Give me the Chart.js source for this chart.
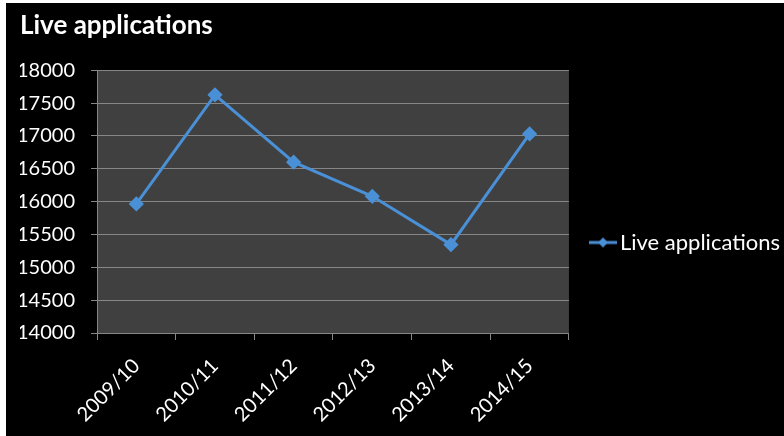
<!DOCTYPE html>
<html>
<head>
<meta charset="utf-8">
<script src="https://cdn.jsdelivr.net/npm/chart.js@4/dist/chart.umd.min.js"></script>
<style>
  html, body { margin: 0; padding: 0; background: #ffffff; }
  #wrap { position: absolute; left: 6px; top: 3px; width: 778px; height: 433px; background: #000000; }
  canvas { display: block; }
</style>
</head>
<body>
<div id="wrap"><canvas id="c" width="778" height="433"></canvas></div>
<script>
// Financial years shown on the category axis
const years = ['2009/10', '2010/11', '2011/12', '2012/13', '2013/14', '2014/15'];
// Number of live applications per year
const liveApplications = [15965, 17625, 16600, 16080, 15345, 17030];
const seriesName = 'Live applications';
const chartTitle = 'Live applications';
// Value axis range and spacing
const yMin = 14000;
const yMax = 18000;
const yStep = 500;

const lineColor = '#4a90d6';
const fontFamily = 'Lato, "Open Sans", "DejaVu Sans", sans-serif';

// Legend marker: short line with a diamond in the middle
function makeLegendMarker() {
  const m = document.createElement('canvas');
  m.width = 28; m.height = 12;
  const g = m.getContext('2d');
  g.strokeStyle = lineColor;
  g.lineWidth = 3;
  g.beginPath(); g.moveTo(0, 6); g.lineTo(28, 6); g.stroke();
  g.fillStyle = lineColor;
  g.beginPath(); g.moveTo(14, 1); g.lineTo(19, 6); g.lineTo(14, 11); g.lineTo(9, 6); g.closePath(); g.fill();
  return m;
}
const legendMarker = makeLegendMarker();

// Fill the plot area with dark grey before anything else is drawn
const plotBackground = {
  id: 'plotBackground',
  beforeDraw(chart) {
    const { ctx, chartArea: a } = chart;
    ctx.save();
    ctx.fillStyle = '#404040';
    ctx.fillRect(a.left, a.top, a.right - a.left, a.bottom - a.top);
    ctx.restore();
  }
};

// Lower the legend a little so it sits below the middle of the side column
const legendDrop = {
  id: 'legendDrop',
  afterLayout(chart) {
    const lg = chart.legend;
    if (lg) { lg.top += 23; lg.bottom += 23; }
  }
};

new Chart(document.getElementById('c'), {
  type: 'line',
  data: {
    labels: years,
    datasets: [{
      label: seriesName,
      data: liveApplications,
      borderColor: lineColor,
      backgroundColor: lineColor,
      borderWidth: 3,
      pointStyle: 'rectRot',
      pointRadius: 5.5,
      pointHoverRadius: 5.5,
      pointBackgroundColor: lineColor,
      pointBorderColor: lineColor,
      tension: 0,
      fill: false
    }]
  },
  options: {
    responsive: false,
    animation: false,
    events: [],
    layout: { padding: { left: 14, right: -6, top: 0, bottom: 0 } },
    plugins: {
      title: {
        display: true,
        text: chartTitle,
        align: 'start',
        color: '#ffffff',
        font: { family: fontFamily, size: 26, weight: 'bold' },
        padding: { top: 7, bottom: 29 }
      },
      legend: {
        display: true,
        position: 'right',
        align: 'center',
        maxWidth: 320,
        labels: {
          color: '#ffffff',
          font: { family: fontFamily, size: 22 },
          usePointStyle: true,
          pointStyleWidth: 12,
          padding: 28,
          generateLabels(chart) {
            return chart.data.datasets.map((ds, i) => ({
              text: ds.label,
              fontColor: '#ffffff',
              pointStyle: legendMarker,
              datasetIndex: i,
              hidden: false,
              lineWidth: 0
            }));
          }
        }
      },
      tooltip: { enabled: false }
    },
    scales: {
      x: {
        type: 'category',
        offset: true,
        grid: {
          offset: true,
          drawOnChartArea: false,
          drawTicks: true,
          tickLength: 7,
          color: '#868686',
          lineWidth: 1
        },
        border: { display: true, color: '#868686', width: 1 },
        ticks: {
          color: '#ffffff',
          font: { family: fontFamily, size: 20 },
          minRotation: 45,
          maxRotation: 45,
          padding: 14,
          autoSkip: false
        },
        afterFit(scale) { scale.height = 103; }
      },
      y: {
        min: yMin,
        max: yMax,
        grid: {
          color: '#868686',
          lineWidth: 1,
          drawTicks: true,
          tickLength: 6
        },
        border: { display: true, color: '#868686', width: 1 },
        ticks: {
          stepSize: yStep,
          color: '#ffffff',
          font: { family: fontFamily, size: 20 },
          padding: 16,
          callback: (v) => String(v)
        },
        afterFit(scale) { scale.width = 77; }
      }
    }
  },
  plugins: [plotBackground, legendDrop]
});
</script>
</body>
</html>
